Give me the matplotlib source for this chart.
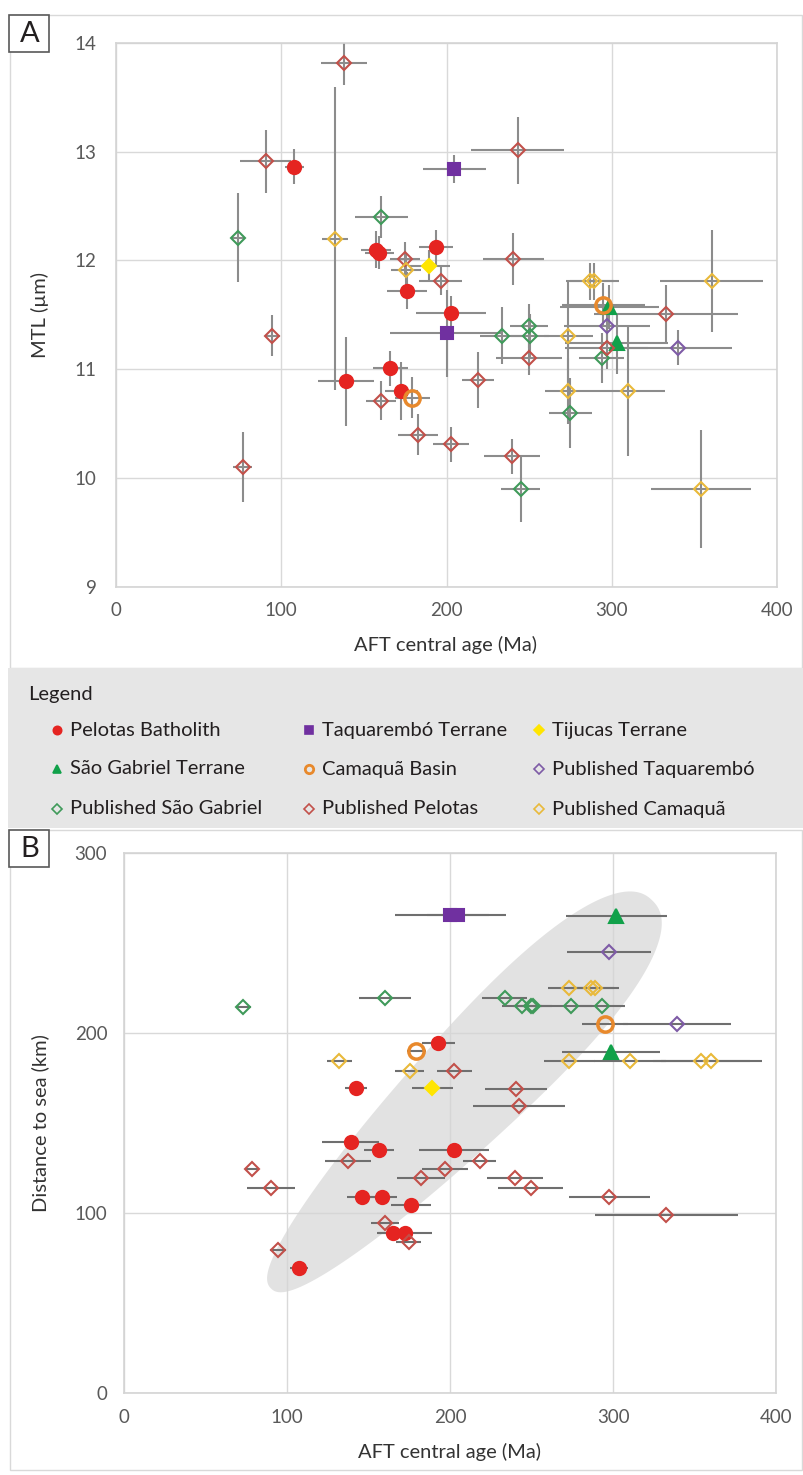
import numpy as np
import matplotlib
matplotlib.use('Agg')
import matplotlib.pyplot as plt
from matplotlib.patches import Rectangle, Polygon

plt.rcParams['font.family'] = ['Lato', 'DejaVu Sans']

# ---- panel A : columns = AFT age, age err, MTL, MTL err ----
pelotas_A = np.array([[108, 5.8, 12.86, 0.16], [157.4, 9, 12.10, 0.17], [159.4, 9, 12.07, 0.15],
                      [193.5, 10.4, 12.12, 0.16], [176, 12, 11.72, 0.17], [202.8, 21, 11.52, 0.15],
                      [139, 17, 10.89, 0.41], [166, 10.4, 11.01, 0.16], [172.5, 10, 10.80, 0.27]])
taquarembo_A = np.array([[204.8, 19, 12.84, 0.13], [200, 34, 11.33, 0.40]])
tijucas_A = np.array([[189.7, 12.6, 11.95, 0.15]])
saogabriel_A = np.array([[298.6, 30, 11.57, 0.20], [303, 31, 11.24, 0.28]])
camaqua_A = np.array([[295, 25, 11.59, 0.20], [179.3, 10.6, 10.74, 0.19]])
pub_taq_A = np.array([[297, 26, 11.40, 0.20], [340, 32.6, 11.20, 0.16]])
pub_sg_A = np.array([[74, 4, 12.21, 0.41], [160.4, 16, 12.40, 0.19], [233.4, 13, 11.31, 0.26],
                     [250, 11.6, 11.40, 0.20], [250.6, 11.6, 11.31, 0.20], [294, 13.6, 11.10, 0.23],
                     [275, 13, 10.60, 0.32], [245, 11.8, 9.90, 0.30]])
pub_pel_A = np.array([[138, 13.8, 13.81, 0.20], [90.6, 15.6, 12.91, 0.29], [174.7, 9, 12.01, 0.16],
                      [196.5, 13, 11.81, 0.13], [243, 28, 13.01, 0.31], [240.5, 18.7, 12.01, 0.24],
                      [333, 43.7, 11.51, 0.26], [297, 25, 11.20, 0.20], [250, 20, 11.10, 0.15],
                      [219, 9.6, 10.90, 0.26], [160.2, 9, 10.71, 0.18], [182.6, 12, 10.40, 0.19],
                      [202.6, 11, 10.31, 0.16], [239.7, 17, 10.20, 0.16], [94.6, 4.5, 11.31, 0.19],
                      [76.6, 5.5, 10.10, 0.32]])
pub_cam_A = np.array([[132.6, 7.8, 12.20, 1.39], [175.5, 9, 11.91, 0.15], [287, 14.6, 11.81, 0.17],
                      [289.5, 14.6, 11.81, 0.17], [360.4, 31, 11.81, 0.47], [273.8, 15, 11.31, 0.50],
                      [273.8, 14, 10.80, 0.30], [310, 22, 10.80, 0.60], [354, 30, 9.90, 0.54]])

# ---- panel B : columns = AFT age, age err, distance to sea ----
pelotas_B = np.array([[107.2, 5.5, 69.4], [142.2, 7, 169.4], [138.9, 17.6, 139.8], [156.4, 9.2, 135.2],
                      [202.2, 21.4, 135.2], [192.6, 10.2, 194.8], [145.6, 9, 109.2], [158.3, 9, 109.2],
                      [175.9, 12.3, 104.6], [165, 9.6, 89.2], [172.2, 16.7, 89.2]])
taquarembo_B = np.array([[200, 34, 265.7], [204.8, 19, 265.7]])
tijucas_B = np.array([[189.1, 12.5, 169.4]])
saogabriel_B = np.array([[301.9, 31, 265.2], [298.4, 30, 189.4]])
camaqua_B = np.array([[294.7, 14, 205], [179.3, 6, 190.2]])
pub_taq_B = np.array([[297.4, 25.8, 245], [339, 33, 205]])
pub_sg_B = np.array([[73, 4.6, 214.8], [160, 15.7, 219.8], [233.5, 13.8, 219.8], [244, 12, 215.2],
                     [249.8, 11.6, 215.2], [251, 11.6, 215.2], [274, 13, 215.2], [293.3, 13.6, 215.2]])
pub_pel_B = np.array([[202.6, 10.9, 179.2], [240.2, 19, 169], [242.2, 28, 159.8], [137.4, 14, 129],
                      [218.1, 10.2, 129], [196.7, 14, 124.4], [182, 14.8, 119.4], [239.6, 17, 119.4],
                      [249.2, 20, 113.9], [297.4, 24.8, 109.2], [332.5, 44, 99], [78.2, 4, 124.4],
                      [89.9, 14.8, 113.9], [160, 8.5, 94.4], [174.6, 7.7, 83.9], [94.6, 5, 79.6]])
pub_cam_B = np.array([[132, 7.8, 184.8], [175.2, 8.9, 179.2], [272.9, 13, 225.3], [286, 14.6, 225.3],
                      [288.6, 14.6, 225.3], [272.9, 15.6, 184.8], [310, 22, 184.8], [354, 30, 184.8],
                      [360, 31, 184.8]])

# highlight region in panel B: egg shaped, centre in data units, half axes in pixels
ell_center = (207, 166)
ell_a, ell_b, ell_angle = 272, 55, 45.5
ell_power, ell_egg = 2.3, 0.25

# name, marker, colour, filled, size
styles = [
    ('Pelotas Batholith', 'o', '#e52421', True, 9.5),
    ('Taquarembó Terrane', 's', '#7030a0', True, 8.5),
    ('Tijucas Terrane', 'D', '#ffe500', True, 7.5),
    ('São Gabriel Terrane', '^', '#11a14a', True, 9.5),
    ('Camaquã Basin', 'o', '#e8892c', False, 11),
    ('Published Taquarembó', 'D', '#7e5ba6', False, 7.5),
    ('Published São Gabriel', 'D', '#3f9a5a', False, 7.5),
    ('Published Pelotas', 'D', '#c2504a', False, 7.5),
    ('Published Camaquã', 'D', '#e9b93a', False, 7.5),
]
data_A = [pelotas_A, taquarembo_A, tijucas_A, saogabriel_A, camaqua_A, pub_taq_A, pub_sg_A, pub_pel_A, pub_cam_A]
data_B = [pelotas_B, taquarembo_B, tijucas_B, saogabriel_B, camaqua_B, pub_taq_B, pub_sg_B, pub_pel_B, pub_cam_B]

W, H = 804, 1475
fig = plt.figure(figsize=(W / 100, H / 100), dpi=100)


def box(x0, y0, x1, y1):
    return [x0 / W, 1 - y1 / H, (x1 - x0) / W, (y1 - y0) / H]


def fig_rect(x0, y0, x1, y1, **kw):
    fig.patches.append(Rectangle((x0 / W, 1 - y1 / H), (x1 - x0) / W, (y1 - y0) / H,
                                 transform=fig.transFigure, **kw))


# outer frames and legend band (behind the axes)
fig_rect(10, 15, 802, 668, facecolor='white', edgecolor='#d9d9d9', lw=1, zorder=-2)
fig_rect(10, 830, 802, 1470, facecolor='white', edgecolor='#d9d9d9', lw=1, zorder=-2)
fig_rect(8, 668, 804, 828, facecolor='#e6e6e6', edgecolor='none', zorder=-1)


def style_axes(ax, xlim, ylim, yticks, ypad):
    ax.set_xlim(*xlim)
    ax.set_ylim(*ylim)
    ax.set_xticks(np.arange(0, 401, 100))
    ax.set_yticks(yticks)
    ax.grid(True, color='#d9d9d9', lw=1)
    ax.set_axisbelow(True)
    for s in ax.spines.values():
        s.set_color('#d4d4d4')
        s.set_linewidth(1.2)
    ax.tick_params(length=0, labelcolor='#595959', labelsize=13.5)
    ax.tick_params(axis='y', pad=ypad)
    ax.tick_params(axis='x', pad=11)


def draw_series(ax, data, with_yerr, ecol):
    for d in data:
        ax.errorbar(d[:, 0], d[:, 2], xerr=d[:, 1], yerr=d[:, 3] if with_yerr else None,
                    fmt='none', ecolor=ecol, elinewidth=1.5, capsize=0, zorder=2)
    for (name, m, c, filled, ms), d in zip(styles, data):
        ax.plot(d[:, 0], d[:, 2], ls='none', marker=m, ms=ms,
                mfc=c if filled else 'none', mec=c,
                mew=2.5 if m == 'o' and not filled else 1.5, zorder=3)


# ---- panel A ----
axA = fig.add_axes(box(116, 42.7, 777, 587))
style_axes(axA, (0, 400), (9, 14), np.arange(9, 14.1, 1), 14)
draw_series(axA, data_A, True, '#8c8c8c')

# ---- panel B ----
axB = fig.add_axes(box(124, 853.3, 776.5, 1393.3))
style_axes(axB, (0, 400), (0, 300), np.arange(0, 301, 100), 12)

# region outline built in pixel space, then converted to data units
sx = (776.5 - 124) / 400
sy = (1393.3 - 853.3) / 300
t = np.linspace(0, 2 * np.pi, 400)
c = np.cos(t)
u = ell_a * c
v = ell_b * np.sign(np.sin(t)) * (1 - np.abs(c) ** ell_power) ** (1 / ell_power) * (1 + ell_egg * c)
ang = np.deg2rad(ell_angle)
px = u * np.cos(ang) - v * np.sin(ang)
py = u * np.sin(ang) + v * np.cos(ang)
axB.add_patch(Polygon(np.column_stack([ell_center[0] + px / sx, ell_center[1] + py / sy]),
                      closed=True, facecolor='#d6d6d6', edgecolor='none', alpha=0.7, zorder=1))
draw_series(axB, data_B, False, '#6f6f6f')

# axis labels
lab = dict(color='#333333', fontsize=14.5)
fig.text(446 / W, 1 - 645 / H, 'AFT central age (Ma)', ha='center', va='center', **lab)
fig.text(40 / W, 1 - 315 / H, 'MTL (µm)', ha='center', va='center', rotation=90, **lab)
fig.text(450 / W, 1 - 1452 / H, 'AFT central age (Ma)', ha='center', va='center', **lab)
fig.text(40 / W, 1 - 1123 / H, 'Distance to sea (km)', ha='center', va='center', rotation=90, **lab)

# panel letters
for letter, y0 in [('A', 15), ('B', 830)]:
    fig_rect(9.5, y0, 49.5, y0 + 37, facecolor='white', edgecolor='#595959', lw=1.2, zorder=2)
    fig.text(29.5 / W, 1 - (y0 + 19) / H, letter, ha='center', va='center',
             fontsize=21, color='#231f20', zorder=3)

# legend
leg = fig.add_axes(box(8, 668, 804, 828))
leg.set_xlim(0, 796)
leg.set_ylim(160, 0)
leg.axis('off')
leg.text(20, 26, 'Legend', fontsize=14.5, color='#231f20', va='center', ha='left')
col_x = [62, 314, 544]
row_y = [62, 101, 141]
for k, (name, m, c_, filled, ms) in enumerate(styles):
    x, y = col_x[k % 3], row_y[k // 3]
    leg.plot([x - 13], [y], ls='none', marker=m, ms=6 if m != 'D' else 5,
             mfc=c_ if filled else 'none', mec=c_, mew=2 if m == 'o' and not filled else 1.2)
    leg.text(x, y, name, fontsize=14.5, color='#231f20', va='center', ha='left')

fig.savefig('out.png', dpi=100)
